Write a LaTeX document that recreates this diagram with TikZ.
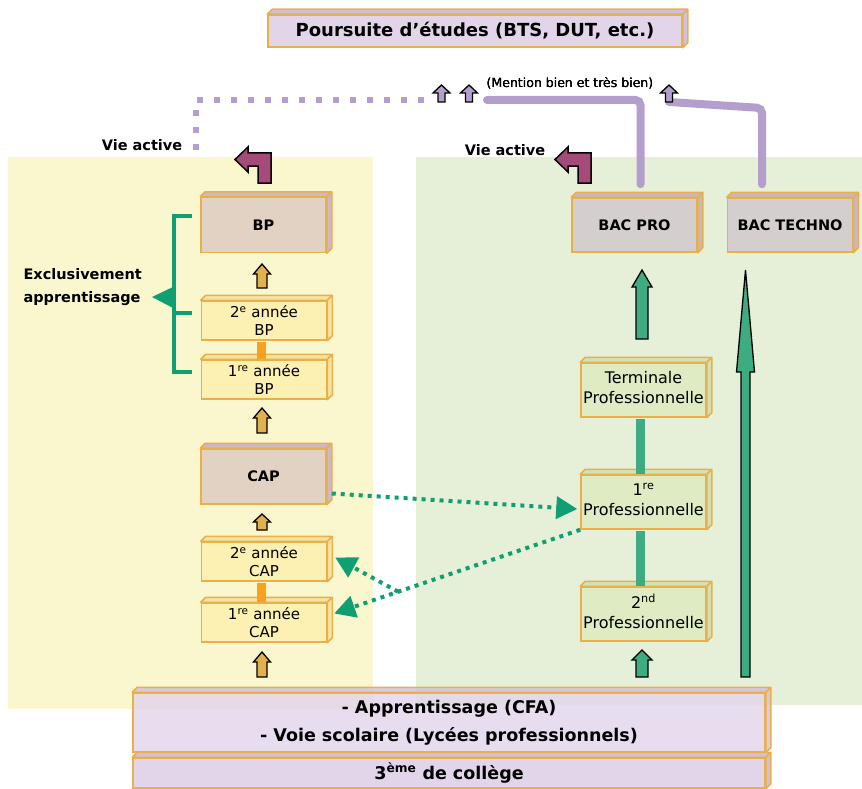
\documentclass[tikz,border=0pt]{standalone}
\usepackage{fontspec}
\setmainfont{DejaVu Sans}
\usetikzlibrary{arrows.meta,calc}

\definecolor{yellowbg}{HTML}{FAF7CE}
\definecolor{greenbg}{HTML}{E6F0D8}
\definecolor{boxline}{HTML}{E9AF48}
\definecolor{lilac}{HTML}{E2D5EA}
\definecolor{lilacface}{HTML}{D2BFDB}
\definecolor{tanfill}{HTML}{E2D2C4}
\definecolor{tanface}{HTML}{CDB8C8}
\definecolor{yearfill}{HTML}{FDF0B3}
\definecolor{yearface}{HTML}{F4E3A4}
\definecolor{profill}{HTML}{DEEBC3}
\definecolor{proface}{HTML}{D2E2B4}
\definecolor{bacfill}{HTML}{D5CECF}
\definecolor{bacface}{HTML}{C8B6C8}
\definecolor{lilacline}{HTML}{B49ECC}
\definecolor{maroon}{HTML}{A54B7B}
\definecolor{arrgreen}{HTML}{3EAB81}
\definecolor{dotgreen}{HTML}{0F9F73}
\definecolor{orangebar}{HTML}{F6A21D}
\definecolor{arrorange}{HTML}{E3B04F}

% faces du dessus et de droite d'une boite
\newcommand{\depthfaces}[2]{%
  \draw[boxline,line width=1.5pt,line join=round,#2] (#1.north west) -- ++(5pt,5pt)
    -- ([shift={(5pt,5pt)}]#1.north east) -- ([shift={(5pt,5pt)}]#1.south east)
    -- (#1.south east) -- (#1.north east) -- cycle (#1.north east) -- ++(5pt,5pt);}
% fleche pleine vers le haut : style, x, pointe, base tete, bas, demi tige, demi tete
\newcommand{\blockup}[7]{%
  \draw[#1] (#2-#6,#5) -- (#2-#6,#4) -- (#2-#7,#4) -- (#2,#3) -- (#2+#7,#4)
    -- (#2+#6,#4) -- (#2+#6,#5) -- cycle;}

\begin{document}
\begin{tikzpicture}[x=1pt,y=-1pt,
    box/.style={draw=boxline,line width=1.5pt,align=center,inner sep=2pt,minimum width=125pt},
    tanbox/.style={box,fill=tanfill,minimum height=55pt,font=\bfseries\fontsize{14.5}{17}\selectfont},
    yearbox/.style={box,fill=yearfill,minimum height=39pt,font=\fontsize{15}{18}\selectfont},
    probox/.style={box,fill=profill,minimum height=54pt,text depth=6pt,font=\fontsize{16}{20}\selectfont},
    bacbox/.style={box,fill=bacfill,minimum height=54pt,font=\bfseries\fontsize{14.5}{17}\selectfont},
    widebox/.style={box,fill=lilac,minimum width=632pt,font=\bfseries\fontsize{17.5}{28}\selectfont},
    lab/.style={font=\bfseries\fontsize{14.5}{23}\selectfont},
    orangeup/.style={draw=black,line width=1.3pt,fill=arrorange},
    greenup/.style={draw=black,line width=1.3pt,fill=arrgreen},
    purpleup/.style={draw=black,line width=1.3pt,fill=lilacline},
    turnarrow/.style={draw=black,line width=1.5pt,fill=maroon,line join=miter},
    greendot/.style={dotgreen,line width=4pt,dash pattern=on 4pt off 5pt,-{Triangle[length=21pt,width=22pt]}},
    lilacdot/.style={lilacline,line width=6pt,dash pattern=on 6pt off 11pt},
    lilacpath/.style={lilacline,line width=8pt,line cap=round,rounded corners=5pt},
    link/.style={line width=9pt}]
  \useasboundingbox (0,0) rectangle (862,789);
  % fonds
  \fill[yellowbg] (8,157) rectangle (373,709);
  \fill[greenbg] (416,157) rectangle (862,705);

  % colonne apprentissage
  \node[tanbox] (BP) at (263.5,225) {BP};
  \node[yearbox] (BP2) at (264,320.5) {2\textsuperscript{e} année\\BP};
  \node[yearbox] (BP1) at (264,379.5) {1\textsuperscript{re} année\\BP};
  \node[tanbox] (CAP) at (263.5,476.5) {CAP};
  \node[yearbox] (CAP2) at (264,561.5) {2\textsuperscript{e} année\\CAP};
  \node[yearbox] (CAP1) at (264,622.5) {1\textsuperscript{re} année\\CAP};
  \depthfaces{BP}{fill=tanface}
  \depthfaces{CAP}{fill=tanface}
  \foreach \n in {BP2,BP1,CAP2,CAP1} \depthfaces{\n}{fill=yearface};
  \draw[link,orangebar,shorten <=0.75pt,shorten >=0.75pt] ([xshift=-3pt]BP1.north) -- ([xshift=-3pt]BP2.south);
  \draw[link,orangebar,shorten <=0.75pt,shorten >=0.75pt] ([xshift=-3pt]CAP1.north) -- ([xshift=-3pt]CAP2.south);
  \blockup{orangeup}{262}{264}{274}{288}{5}{8.5}
  \blockup{orangeup}{262}{408}{418}{433}{5}{8.5}
  \blockup{orangeup}{262}{514}{522}{530}{5}{8.5}
  \blockup{orangeup}{262}{652}{662}{677}{5}{8.5}

  % accolade
  \draw[dotgreen,line width=4pt] (192,216) -- (174,216) -- (174,372) -- (192,372) (174,313) -- (192,313);
  \fill[dotgreen] (152,297) -- (175,286) -- (175,309) -- cycle;
  \node[lab,align=left,anchor=west] (excl) at (20,287) {Exclusivement\\apprentissage};

  % voie scolaire
  \node[bacbox] (BACPRO) at (634.5,225) {BAC PRO};
  \node[bacbox] (BACTECHNO) at (790,225) {BAC TECHNO};
  \node[probox] (Term) at (643.5,390) {Terminale\\Professionnelle};
  \node[probox] (Pro1) at (643.5,502) {1\textsuperscript{re}\\Professionnelle};
  \node[probox] (Pro2) at (643.5,614) {2\textsuperscript{nd}\\Professionnelle};
  \depthfaces{BACPRO}{fill=bacface}
  \depthfaces{BACTECHNO}{fill=bacface}
  \foreach \n in {Term,Pro1,Pro2} \depthfaces{\n}{fill=proface};
  \draw[link,arrgreen,shorten <=0.75pt,shorten >=0.75pt] ([xshift=-3pt]Pro1.north) -- ([xshift=-3pt]Term.south);
  \draw[link,arrgreen,shorten <=0.75pt,shorten >=0.75pt] ([xshift=-3pt]Pro2.north) -- ([xshift=-3pt]Pro1.south);
  \blockup{greenup}{642}{270}{287}{339}{6}{10}
  \blockup{greenup}{642}{650}{660}{677}{6}{10}
  \blockup{greenup}{745.5}{270}{372}{677}{4.5}{9}

  % passerelles
  \draw[greendot] ([xshift=5pt,yshift=-17pt]CAP.east) -- ([xshift=-3pt,yshift=-7pt]Pro1.west);
  \coordinate (c1) at ([xshift=7pt,yshift=9pt]CAP1.east);
  \coordinate (c2) at ([xshift=8pt,yshift=4pt]CAP2.east);
  \coordinate (split) at ($(Pro1.south west)!0.74!(c1)$);
  \draw[greendot] (Pro1.south west) -- (c1);
  \draw[greendot] (split) -- (c2);

  % bas
  \node[widebox,minimum height=59pt,fill opacity=0.8,text opacity=1] (voies) at (449,722.5) {- Apprentissage (CFA)\\- Voie scolaire (Lycées professionnels)};
  \depthfaces{voies}{fill=lilacface,fill opacity=0.8}
  \node[widebox,minimum height=30pt] (college) at (449,773) {3\textsuperscript{ème} de collège};
  \depthfaces{college}{fill=lilacface}

  % haut
  \node[box,fill=lilac,minimum width=414pt,minimum height=32pt,font=\bfseries\fontsize{18}{20}\selectfont] (etudes) at (475,31) {Poursuite d’études (BTS, DUT, etc.)};
  \depthfaces{etudes}{fill=lilacface}
  \foreach \s in {0,320}
    \draw[turnarrow,xshift=\s] (271,183) -- (271,153) -- (248,153) -- (248,147) -- (235,159.5)
      -- (248,172) -- (248,166) -- (258,166) -- (258,183) -- cycle;
  \node[lab] (va1) at (142,145) {Vie active};
  \node[lab] (va2) at (505,150) {Vie active};
  \draw[lilacdot] (196,150) -- (196,100) -- (424,100);
  \draw[lilacpath] ([xshift=6pt,yshift=13pt]BACPRO.north) |- (487,100);
  \draw[lilacpath] ([xshift=-28pt,yshift=13pt]BACTECHNO.north) -- (762,108) -- (669,102);
  \foreach \x in {441.5,469,669} \blockup{purpleup}{\x}{85}{93}{102}{3.5}{8.5}
  \node[font=\fontsize{12.5}{14}\selectfont] (mention) at (570,83) {(Mention bien et très bien)};
\end{tikzpicture}
\end{document}
